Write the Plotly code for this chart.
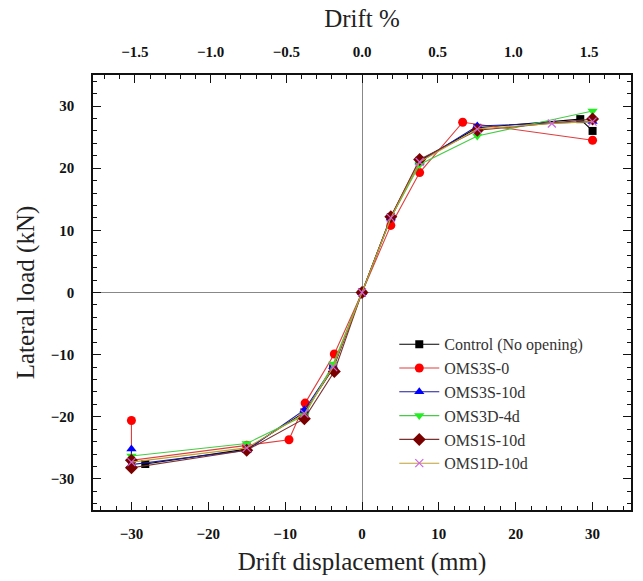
import plotly.graph_objects as go

# ---- data (drift displacement mm, lateral load kN) ----
control_x = [-28.2, -15, -7.5, -3.75, 0, 3.75, 7.5, 15, 28.4, 30]
control_y = [-27.6, -25.2, -19.3, -12.2, 0, 12.1, 21.2, 26.5, 27.9, 26.0]

oms3s0_x = [-30, -30, -15, -9.5, -7.4, -3.6, 0, 3.75, 7.5, 13.1, 30]
oms3s0_y = [-20.6, -27.0, -24.6, -23.7, -17.8, -9.9, 0, 10.8, 19.3, 27.4, 24.5]

oms3s10d_x = [-30, -30, -15, -7.5, -3.75, 0, 3.75, 7.5, 15, 30]
oms3s10d_y = [-25.2, -27.7, -25.4, -18.9, -11.9, 0, 12.0, 21.0, 26.8, 27.5]

oms3d4d_x = [-30, -15, -7.5, -3.75, 0, 3.75, 7.5, 15, 30]
oms3d4d_y = [-26.3, -24.3, -19.8, -11.5, 0, 12.0, 20.6, 25.2, 29.2]

oms1s10d_x = [-30, -30, -15, -7.5, -3.6, 0, 3.75, 7.5, 15, 30]
oms1s10d_y = [-27.0, -28.2, -25.4, -20.3, -12.7, 0, 12.2, 21.4, 26.1, 27.9]

oms1d10d_x = [-30, -15, -7.5, -3.75, 0, 3.75, 7.5, 15, 24.7, 30]
oms1d10d_y = [-27.3, -25.0, -19.5, -12.0, 0, 12.0, 21.0, 26.3, 27.2, 27.5]

x_range = [-35, 35]
y_range = [-35, 35]
mm_per_percent = 19.7
drift_range = [x_range[0] / mm_per_percent, x_range[1] / mm_per_percent]

series = [
    ("Control (No opening)", control_x, control_y, "#000000", "#000000", "square", 8),
    ("OMS3S-0", oms3s0_x, oms3s0_y, "#e03c3c", "#ff0000", "circle", 9),
    ("OMS3S-10d", oms3s10d_x, oms3s10d_y, "#1a1aa0", "#0000ff", "triangle-up", 9),
    ("OMS3D-4d", oms3d4d_x, oms3d4d_y, "#44cc44", "#22ee22", "triangle-down", 9),
    ("OMS1S-10d", oms1s10d_x, oms1s10d_y, "#7a3030", "#7a0000", "diamond", 10),
    ("OMS1D-10d", oms1d10d_x, oms1d10d_y, "#c0a030", "#cc66dd", "x-thin-open", 8),
]

serif = "Times New Roman, Liberation Serif, DejaVu Serif, serif"
fig = go.Figure()
for name, xs, ys, lc, mc, sym, sz in series:
    mk = dict(symbol=sym, size=sz, color=mc)
    if sym == "x-thin-open":
        mk["line"] = dict(color=mc, width=1.2)
    else:
        mk["line"] = dict(width=0)
    fig.add_trace(go.Scatter(x=xs, y=ys, mode="lines+markers", name=name,
                             line=dict(color=lc, width=1.1), marker=mk))

# empty trace to activate the top (drift %) axis
fig.add_trace(go.Scatter(x=[], y=[], xaxis="x2", showlegend=False, hoverinfo="skip"))

tickfont = dict(family=serif, size=15, color="#111")
axis_common = dict(showline=True, linecolor="#111", linewidth=1.5, ticks="inside",
                   ticklen=8, tickwidth=1.3, tickcolor="#111", showgrid=False,
                   tickfont=tickfont)
minor_common = dict(ticks="inside", ticklen=4, tickwidth=1.1, tickcolor="#111")
title_font = dict(family=serif, size=25, color="#222")

fig.update_layout(
    width=643, height=581,
    margin=dict(l=93, r=10, t=75, b=69),
    plot_bgcolor="white", paper_bgcolor="white",
    xaxis=dict(range=x_range, dtick=10, tick0=0, zeroline=True, zerolinecolor="#888",
               zerolinewidth=1, minor=dict(dtick=2, **minor_common),
               title=dict(text="Drift displacement (mm)", font=title_font, standoff=12),
               tickprefix="<b>", ticksuffix="</b>", ticklabelstandoff=9,
               **axis_common),
    xaxis2=dict(range=drift_range, overlaying="x", side="top", dtick=0.5, tick0=0,
                tickformat=".1f", zeroline=False, minor=dict(dtick=0.1, **minor_common),
                title=dict(text="Drift %", font=title_font, standoff=10),
                tickprefix="<b>", ticksuffix="</b>", ticklabelstandoff=10,
                **axis_common),
    yaxis=dict(range=y_range, dtick=10, tick0=0, mirror="ticks", zeroline=True,
               zerolinecolor="#888", zerolinewidth=1, minor=dict(dtick=2, **minor_common),
               title=dict(text="Lateral load (kN)", font=title_font, standoff=9),
               tickprefix="<b>", ticksuffix="</b>", ticklabelstandoff=14,
               **axis_common),
    legend=dict(x=0.56, y=0.42, xanchor="left", yanchor="top",
                bgcolor="rgba(0,0,0,0)", font=dict(family=serif, size=16, color="#333"),
                tracegroupgap=0, itemwidth=40),
    showlegend=True,
)

fig.write_html("out.html")
